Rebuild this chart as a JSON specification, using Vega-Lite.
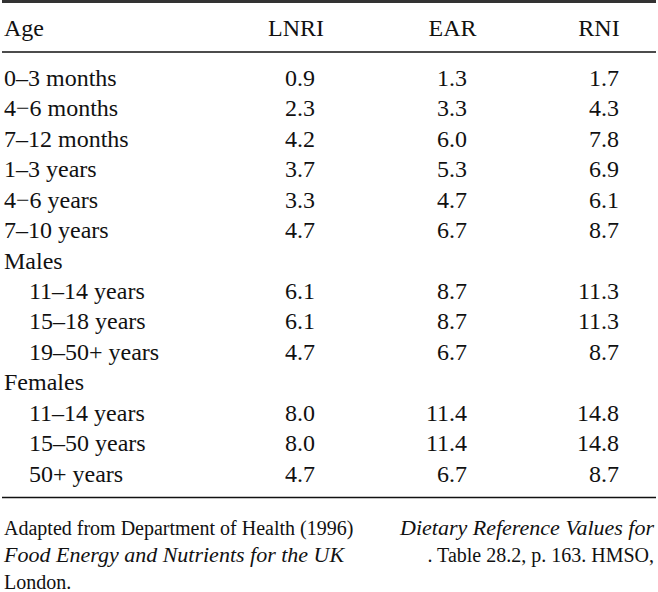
{
  "$schema": "https://vega.github.io/schema/vega-lite/v6.json",
  "width": 658,
  "height": 592,
  "padding": 0,
  "autosize": {"type": "fit", "contains": "padding"},
  "background": "white",
  "config": {"view": {"stroke": null}, "text": {"font": "Liberation Serif", "color": "#111", "baseline": "alphabetic"}},
  "datasets": {
    "rows": [
      {"r": 1, "age": "0–3 months", "indent": false, "LNRI": 0.9, "EAR": 1.3, "RNI": 1.7},
      {"r": 2, "age": "4−6 months", "indent": false, "LNRI": 2.3, "EAR": 3.3, "RNI": 4.3},
      {"r": 3, "age": "7–12 months", "indent": false, "LNRI": 4.2, "EAR": 6.0, "RNI": 7.8},
      {"r": 4, "age": "1–3 years", "indent": false, "LNRI": 3.7, "EAR": 5.3, "RNI": 6.9},
      {"r": 5, "age": "4−6 years", "indent": false, "LNRI": 3.3, "EAR": 4.7, "RNI": 6.1},
      {"r": 6, "age": "7–10 years", "indent": false, "LNRI": 4.7, "EAR": 6.7, "RNI": 8.7},
      {"r": 7, "age": "Males", "indent": false, "LNRI": null, "EAR": null, "RNI": null},
      {"r": 8, "age": "11–14 years", "indent": true, "LNRI": 6.1, "EAR": 8.7, "RNI": 11.3},
      {"r": 9, "age": "15–18 years", "indent": true, "LNRI": 6.1, "EAR": 8.7, "RNI": 11.3},
      {"r": 10, "age": "19–50+ years", "indent": true, "LNRI": 4.7, "EAR": 6.7, "RNI": 8.7},
      {"r": 11, "age": "Females", "indent": false, "LNRI": null, "EAR": null, "RNI": null},
      {"r": 12, "age": "11–14 years", "indent": true, "LNRI": 8.0, "EAR": 11.4, "RNI": 14.8},
      {"r": 13, "age": "15–50 years", "indent": true, "LNRI": 8.0, "EAR": 11.4, "RNI": 14.8},
      {"r": 14, "age": "50+ years", "indent": true, "LNRI": 4.7, "EAR": 6.7, "RNI": 8.7}
    ],
    "headers": [
      {"c": 1, "label": "LNRI"},
      {"c": 2, "label": "EAR"},
      {"c": 3, "label": "RNI"}
    ],
    "notes": [
      {"r": 15, "kind": "citation", "side": "left", "text": "Adapted from Department of Health (1996)"},
      {"r": 15, "kind": "title", "side": "right", "text": "Dietary Reference Values for"},
      {"r": 16, "kind": "title", "side": "left", "text": "Food Energy and Nutrients for the UK"},
      {"r": 16, "kind": "citation", "side": "right", "text": ". Table 28.2, p. 163. HMSO,"},
      {"r": 17, "kind": "citation", "side": "left", "text": "London."}
    ],
    "one": [{}]
  },
  "encoding": {
    "y": {"type": "quantitative", "scale": {"domain": [0, 1, 14, 15, 17], "range": [36, 86, 481.5, 535, 589]}, "axis": null}
  },
  "layer": [
    {
      "data": {"name": "one"},
      "mark": {"type": "rule", "stroke": "#333", "strokeWidth": 3},
      "encoding": {"y": {"datum": -0.69, "type": "quantitative"}}
    },
    {
      "data": {"name": "one"},
      "mark": {"type": "rule", "stroke": "#111", "strokeWidth": 1.5},
      "encoding": {"y": {"datum": 0.32, "type": "quantitative"}}
    },
    {
      "data": {"name": "one"},
      "mark": {"type": "rule", "stroke": "#111", "strokeWidth": 1.5},
      "encoding": {"y": {"datum": 14.3, "type": "quantitative"}}
    },
    {
      "data": {"values": [{"label": "Age"}]},
      "mark": {"type": "text", "align": "left", "fontSize": 24, "font": "Liberation Serif"},
      "encoding": {
        "x": {"datum": 0, "type": "quantitative", "scale": {"domain": [0, 1, 2, 3, 4], "range": [2, 313, 465, 617, 652]}, "axis": null},
        "y": {"datum": 0, "type": "quantitative"},
        "text": {"field": "label"}
      }
    },
    {
      "data": {"name": "headers"},
      "transform": [{"filter": "datum.c == 1"}],
      "mark": {"type": "text", "align": "center", "fontSize": 24, "dx": -19, "font": "Liberation Serif"},
      "encoding": {
        "x": {"field": "c", "type": "quantitative"},
        "y": {"datum": 0, "type": "quantitative"},
        "text": {"field": "label"}
      }
    },
    {
      "data": {"name": "headers"},
      "transform": [{"filter": "datum.c == 2"}],
      "mark": {"type": "text", "align": "center", "fontSize": 24, "dx": -14.5, "font": "Liberation Serif"},
      "encoding": {
        "x": {"field": "c", "type": "quantitative"},
        "y": {"datum": 0, "type": "quantitative"},
        "text": {"field": "label"}
      }
    },
    {
      "data": {"name": "headers"},
      "transform": [{"filter": "datum.c == 3"}],
      "mark": {"type": "text", "align": "center", "fontSize": 24, "dx": -20, "font": "Liberation Serif"},
      "encoding": {
        "x": {"field": "c", "type": "quantitative"},
        "y": {"datum": 0, "type": "quantitative"},
        "text": {"field": "label"}
      }
    },
    {
      "data": {"name": "rows"},
      "transform": [{"filter": "!datum.indent"}],
      "mark": {"type": "text", "align": "left", "fontSize": 24, "font": "Liberation Serif"},
      "encoding": {
        "x": {"datum": 0, "type": "quantitative"},
        "y": {"field": "r"},
        "text": {"field": "age"}
      }
    },
    {
      "data": {"name": "rows"},
      "transform": [{"filter": "datum.indent"}],
      "mark": {"type": "text", "align": "left", "fontSize": 24, "dx": 25, "font": "Liberation Serif"},
      "encoding": {
        "x": {"datum": 0, "type": "quantitative"},
        "y": {"field": "r"},
        "text": {"field": "age"}
      }
    },
    {
      "data": {"name": "rows"},
      "transform": [{"filter": "datum.LNRI != null"}],
      "mark": {"type": "text", "align": "right", "fontSize": 24, "font": "Liberation Serif"},
      "encoding": {
        "x": {"datum": 1, "type": "quantitative"},
        "y": {"field": "r"},
        "text": {"field": "LNRI", "type": "quantitative", "format": ".1f"}
      }
    },
    {
      "data": {"name": "rows"},
      "transform": [{"filter": "datum.EAR != null"}],
      "mark": {"type": "text", "align": "right", "fontSize": 24, "font": "Liberation Serif"},
      "encoding": {
        "x": {"datum": 2, "type": "quantitative"},
        "y": {"field": "r"},
        "text": {"field": "EAR", "type": "quantitative", "format": ".1f"}
      }
    },
    {
      "data": {"name": "rows"},
      "transform": [{"filter": "datum.RNI != null"}],
      "mark": {"type": "text", "align": "right", "fontSize": 24, "font": "Liberation Serif"},
      "encoding": {
        "x": {"datum": 3, "type": "quantitative"},
        "y": {"field": "r"},
        "text": {"field": "RNI", "type": "quantitative", "format": ".1f"}
      }
    },
    {
      "data": {"name": "notes"},
      "transform": [{"filter": "datum.side == 'left' && datum.kind == 'citation'"}],
      "mark": {"type": "text", "align": "left", "fontSize": 20, "font": "Liberation Serif"},
      "encoding": {
        "x": {"datum": 0, "type": "quantitative"},
        "y": {"field": "r"},
        "text": {"field": "text"}
      }
    },
    {
      "data": {"name": "notes"},
      "transform": [{"filter": "datum.side == 'left' && datum.kind == 'title'"}],
      "mark": {"type": "text", "align": "left", "fontSize": 22, "fontStyle": "italic", "font": "Liberation Serif"},
      "encoding": {
        "x": {"datum": 0, "type": "quantitative"},
        "y": {"field": "r"},
        "text": {"field": "text"}
      }
    },
    {
      "data": {"name": "notes"},
      "transform": [{"filter": "datum.side == 'right' && datum.kind == 'title'"}],
      "mark": {"type": "text", "align": "right", "fontSize": 22, "fontStyle": "italic", "font": "Liberation Serif"},
      "encoding": {
        "x": {"datum": 4, "type": "quantitative"},
        "y": {"field": "r"},
        "text": {"field": "text"}
      }
    },
    {
      "data": {"name": "notes"},
      "transform": [{"filter": "datum.side == 'right' && datum.kind == 'citation'"}],
      "mark": {"type": "text", "align": "right", "fontSize": 20, "font": "Liberation Serif"},
      "encoding": {
        "x": {"datum": 4, "type": "quantitative"},
        "y": {"field": "r"},
        "text": {"field": "text"}
      }
    }
  ]
}
